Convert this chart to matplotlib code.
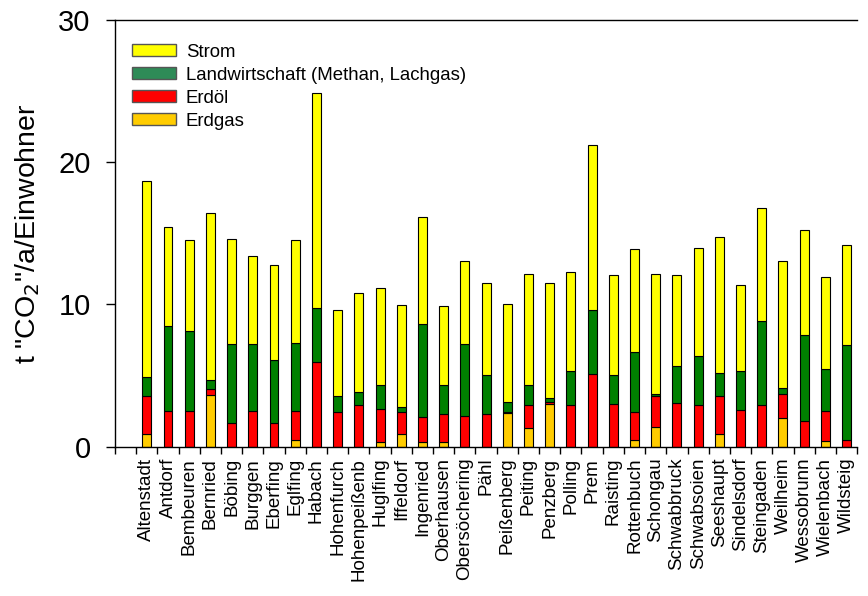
import numpy as np
import matplotlib
matplotlib.use("Agg")
import matplotlib.pyplot as plt
from matplotlib.patches import Patch

plt.rcParams['font.family'] = ['Liberation Sans', 'DejaVu Sans']

# Gemeinden
gemeinden = ["Altenstadt", "Antdorf", "Bembeuren", "Bernried", "Böbing", "Burggen",
             "Eberfing", "Eglfing", "Habach", "Hohenfurch", "Hohenpeißenb", "Huglfing",
             "Iffeldorf", "Ingenried", "Oberhausen", "Obersöchering", "Pähl", "Peißenberg",
             "Peiting", "Penzberg", "Polling", "Prem", "Raisting", "Rottenbuch",
             "Schongau", "Schwabbruck", "Schwabsoien", "Seeshaupt", "Sindelsdorf",
             "Steingaden", "Weilheim", "Wessobrunn", "Wielenbach", "Wildsteig"]

# t CO2 / a / Einwohner, je Quelle (gestapelt von unten nach oben)
erdgas = [0.87, 0, 0, 3.66, 0, 0, 0, 0.47, 0, 0, 0, 0.31,
          0.87, 0.31, 0.31, 0, 0, 2.37, 1.30, 3.03, 0, 0, 0, 0.47,
          1.41, 0, 0, 0.87, 0, 0, 2.00, 0, 0.40, 0]
erdoel = [2.70, 2.49, 2.49, 0.38, 1.67, 2.49, 1.67, 2.02, 5.94, 2.42, 2.94, 2.34,
          1.55, 1.78, 1.97, 2.18, 2.28, 0.09, 1.64, 0.14, 2.94, 5.12, 3.02, 1.95,
          2.14, 3.06, 2.94, 2.70, 2.56, 2.94, 1.69, 1.83, 2.09, 0.49]
landwirtschaft = [1.32, 5.99, 5.66, 0.66, 5.54, 4.72, 4.44, 4.81, 3.83, 1.15, 0.89, 1.67,
                  0.35, 6.53, 2.04, 5.05, 2.77, 0.67, 1.38, 0.24, 2.39, 4.51, 2.05, 4.27,
                  0.14, 2.64, 3.45, 1.64, 2.75, 5.93, 0.42, 6.04, 3.00, 6.65]
strom = [13.82, 6.97, 6.36, 11.74, 7.37, 6.22, 6.69, 7.21, 15.12, 6.04, 6.97, 6.83,
         7.19, 7.56, 5.57, 5.85, 6.48, 6.92, 7.84, 8.12, 6.92, 11.55, 6.97, 7.18,
         8.47, 6.34, 7.58, 9.51, 6.03, 7.94, 8.97, 7.37, 6.46, 7.01]

fig = plt.figure(figsize=(8.68, 5.96), dpi=100)
ax = fig.add_axes([0.1325, 0.2505, 0.855, 0.716])

x = np.arange(len(gemeinden))
w = 0.42
bottom = np.zeros(len(gemeinden))
for vals, col in [(erdgas, "#ffcc00"), (erdoel, "#ff0000"),
                  (landwirtschaft, "#008000"), (strom, "#ffff00")]:
    v = np.array(vals)
    ax.bar(x, v, w, bottom=bottom, color=col, edgecolor="black", linewidth=0.8)
    bottom += v

ax.set_xlim(-1.5, len(gemeinden) - 0.5)
ax.set_ylim(0, 30)
ax.set_yticks([0, 10, 20, 30])
ax.tick_params(axis="y", labelsize=21, direction="out", length=6.5, width=1, pad=11)
ax.set_xticks(x)
ax.set_xticklabels(gemeinden, rotation=90, fontsize=13.5)
ax.tick_params(axis="x", length=0, pad=8)
ax.set_xticks(np.arange(-1.5, len(gemeinden)), minor=True)
ax.tick_params(axis="x", which="minor", direction="out", length=5, width=1)
ax.spines["right"].set_visible(False)
for s in ["left", "bottom", "top"]:
    ax.spines[s].set_linewidth(1)

ax.set_ylabel('t "CO$_2$"/a/Einwohner', fontsize=20.5, labelpad=12)

handles = [Patch(facecolor="#ffff00", edgecolor="#555555", label="Strom"),
           Patch(facecolor="#2e8b57", edgecolor="#555555", label="Landwirtschaft (Methan, Lachgas)"),
           Patch(facecolor="#ff0000", edgecolor="#555555", label="Erdöl"),
           Patch(facecolor="#ffcc00", edgecolor="#555555", label="Erdgas")]
ax.legend(handles=handles, loc="upper left", bbox_to_anchor=(0.005, 0.975), frameon=False,
          fontsize=13.4, handlelength=2.4, handleheight=0.55, labelspacing=0.32,
          handletextpad=0.5, borderaxespad=0.3)

fig.savefig("out.png", dpi=100)
